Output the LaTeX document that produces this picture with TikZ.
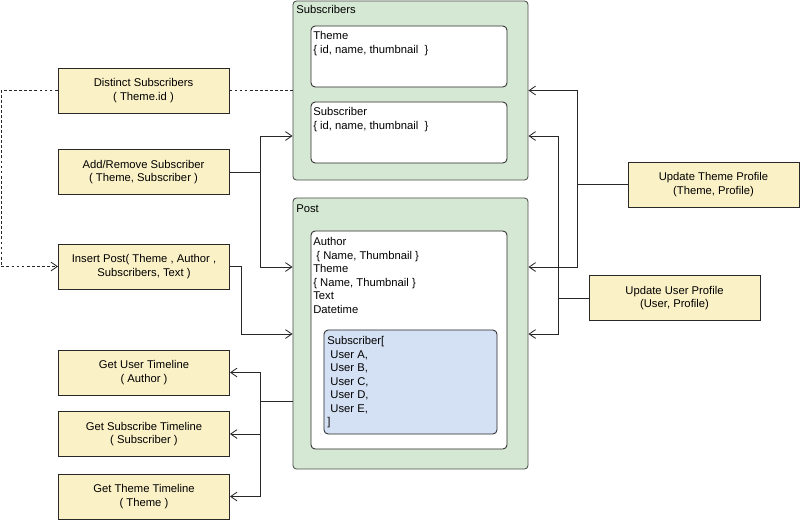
\documentclass[tikz,border=0pt]{standalone}
\usepackage{fontspec}
\setmainfont{Liberation Sans}
\usepackage{tikz}
\usetikzlibrary{arrows.meta, positioning}
\definecolor{NoteYellow}{RGB}{251, 241, 198}
\definecolor{GroupGreen}{RGB}{213, 232, 212}
\definecolor{ListBlue}{RGB}{212, 225, 245}
\definecolor{EdgeGray}{RGB}{40, 40, 40}
\tikzset{
    opbox/.style={rectangle, draw=EdgeGray, line width=0.6pt, fill=NoteYellow,
        minimum width=4.275cm, minimum height=1.125cm, align=center,
        font=\fontsize{8}{9.6}\selectfont},
    groupbox/.style={rectangle, draw=EdgeGray!80!GroupGreen, line width=0.6pt, fill=GroupGreen,
        rounded corners=2.5pt, minimum width=5.875cm},
    recbox/.style={rectangle, draw=EdgeGray, line width=0.6pt, fill=white,
        rounded corners=3pt, minimum width=4.9cm},
    rectext/.style={anchor=north west, inner sep=0pt, align=left,
        font=\fontsize{8}{9.65}\selectfont},
    link/.style={draw=EdgeGray, line width=0.6pt},
    arr/.style={link, -{Straight Barb[length=1.6mm, width=2.2mm]}},
    dashlink/.style={link, dash pattern=on 2pt off 1.6pt}
}
\begin{document}
\begin{tikzpicture}[x=0.025cm, y=-0.025cm]
    \useasboundingbox (0,0) rectangle (800,520);

    % data groups
    \node[groupbox, minimum height=4.475cm] (subs) at (410.5,90.5) {};
    \node[rectext] (subslabel) at (296,5) {Subscribers};
    \node[recbox, minimum height=1.525cm] (themebox) at (409,56.5) {};
    \node[rectext] (themetext) at (313,31) {Theme\\\{ id, name, thumbnail\ \ \}};
    \node[recbox, minimum height=1.525cm] (subbox) at (409,132.5) {};
    \node[rectext] (subtext) at (313,107) {Subscriber\\\{ id, name, thumbnail\ \ \}};

    \node[groupbox, minimum height=6.775cm] (post) at (410.5,333.5) {};
    \node[rectext] (postlabel) at (296,204) {Post};
    \node[recbox, minimum height=5.45cm] (postbox) at (409,340) {};
    \node[rectext] (posttext) at (313,237) {Author\\\ \{ Name, Thumbnail \}\\Theme\\\{ Name, Thumbnail \}\\Text\\Datetime};
    \node[recbox, fill=ListBlue, minimum width=4.325cm, minimum height=2.6cm] (userlist) at (410.5,382) {};
    \node[rectext] (usertext) at (327,336) {Subscriber[\\\ User A,\\\ User B,\\\ User C,\\\ User D,\\\ User E,\\]};

    % operations
    \node[opbox] (distinct) at (143.5,90.5) {Distinct Subscribers\\( Theme.id )};
    \node[opbox] (addrem) at (143.5,172) {Add/Remove Subscriber\\( Theme, Subscriber )};
    \node[opbox] (insert) at (144,266.5) {Insert Post( Theme , Author ,\\Subscribers, Text )};
    \node[opbox] (getuser) at (144,372.5) {Get User Timeline\\( Author )};
    \node[opbox] (getsub) at (144,434) {Get Subscribe Timeline\\( Subscriber )};
    \node[opbox] (gettheme) at (144,496.5) {Get Theme Timeline\\( Theme )};
    \node[opbox] (updtheme) at (713.5,184.5) {Update Theme Profile\\(Theme, Profile)};
    \node[opbox] (upduser) at (674.5,298) {Update User Profile\\(User, Profile)};

    % levels where connectors meet the groups
    \coordinate (lvlB) at (0,136);
    \coordinate (lvlC) at (0,267);
    \coordinate (lvlD) at (0,334);
    \coordinate (lvlE) at (0,401);

    % connectors
    \draw[dashlink] (distinct.east) -- (distinct.east -| subs.west);
    \draw[dashlink, arr] (distinct.west) -- ++(-56.5,0) |- (insert.west);
    \draw[arr] (addrem.east) -- ++(31,0) |- (subs.west |- lvlB);
    \draw[arr] (addrem.east) -- ++(31,0) |- (post.west |- lvlC);
    \draw[arr] (insert.east) -- ++(11,0) |- (post.west |- lvlD);
    \draw[arr] (post.west |- lvlE) -- ++(-32,0) |- (getuser.east);
    \draw[arr] (post.west |- lvlE) -- ++(-32,0) |- (getsub.east);
    \draw[arr] (post.west |- lvlE) -- ++(-32,0) |- (gettheme.east);
    \draw[arr] (updtheme.west) -- ++(-50,0) |- (subs.east);
    \draw[arr] (updtheme.west) -- ++(-50,0) |- (post.east |- lvlC);
    \draw[arr] (upduser.west) -- ++(-30,0) |- (subs.east |- lvlB);
    \draw[arr] (upduser.west) -- ++(-30,0) |- (post.east |- lvlD);
\end{tikzpicture}
\end{document}
